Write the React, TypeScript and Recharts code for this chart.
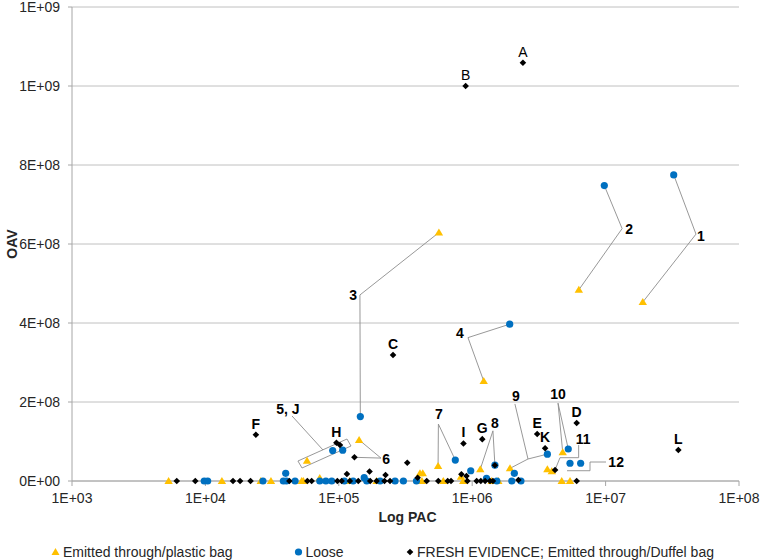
import React from 'react';
import { ScatterChart, Scatter, XAxis, YAxis, CartesianGrid, Legend, Label } from 'recharts';

// ---------------- data ----------------
const xTicks = [1e3, 1e4, 1e5, 1e6, 1e7, 1e8];
const xTickLabels = ['1E+03', '1E+04', '1E+05', '1E+06', '1E+07', '1E+08'];
const yTicks = [0, 2e8, 4e8, 6e8, 8e8, 1e9, 1.2e9];
const yTickLabels = ['0E+00', '2E+08', '4E+08', '6E+08', '8E+08', '1E+09', '1E+09'];

const seriesNames = ['Emitted through/plastic bag', 'Loose', 'FRESH EVIDENCE; Emitted through/Duffel bag'];

const plasticBag = [
  { x: 5.3e3, y: 0 }, { x: 1.33e4, y: 0 }, { x: 2.6e4, y: 0 }, { x: 3.1e4, y: 0 },
  { x: 5.27e4, y: 0 }, { x: 5.42e4, y: 0 }, { x: 5.78e4, y: 5.1e7 }, { x: 7.2e4, y: 7.6e6 },
  { x: 1.21e5, y: 0 }, { x: 1.42e5, y: 1.04e8 }, { x: 1.92e5, y: 0 }, { x: 4.06e5, y: 1.95e7 },
  { x: 4.26e5, y: 1.95e7 }, { x: 4.2e5, y: 0 }, { x: 5.55e5, y: 3.8e7 }, { x: 5.63e5, y: 6.29e8 },
  { x: 6.07e5, y: 0 }, { x: 8.24e5, y: 1.09e7 }, { x: 8.57e5, y: 0 }, { x: 1.15e6, y: 3.0e7 },
  { x: 1.22e6, y: 2.53e8 }, { x: 1.4e6, y: 0 }, { x: 1.57e6, y: 0 }, { x: 1.92e6, y: 3.2e7 },
  { x: 3.66e6, y: 3.0e7 }, { x: 3.95e6, y: 2.5e7 }, { x: 4.69e6, y: 0 }, { x: 5.41e6, y: 0 },
  { x: 4.77e6, y: 7.3e7 }, { x: 6.3e6, y: 4.84e8 }, { x: 1.9e7, y: 4.53e8 },
];

const loose = [
  { x: 9.8e3, y: 0 }, { x: 1.04e4, y: 0 }, { x: 2.7e4, y: 0 }, { x: 3.84e4, y: 0 },
  { x: 4.05e4, y: 0 }, { x: 4.0e4, y: 1.95e7 }, { x: 4.7e4, y: 0 }, { x: 7.2e4, y: 0 },
  { x: 8.0e4, y: 0 }, { x: 8.85e4, y: 0 }, { x: 9.0e4, y: 7.7e7 }, { x: 1.07e5, y: 7.8e7 },
  { x: 1.1e5, y: 0 }, { x: 1.28e5, y: 0 }, { x: 1.45e5, y: 1.63e8 }, { x: 1.55e5, y: 8.4e6 },
  { x: 1.62e5, y: 0 }, { x: 2.04e5, y: 0 }, { x: 2.64e5, y: 0 }, { x: 3.05e5, y: 0 },
  { x: 3.82e5, y: 0 }, { x: 7.47e5, y: 5.3e7 }, { x: 9.75e5, y: 2.6e7 }, { x: 1.28e6, y: 6.8e6 },
  { x: 1.48e6, y: 4.0e7 }, { x: 1.53e6, y: 0 }, { x: 1.91e6, y: 3.97e8 }, { x: 1.98e6, y: 0 },
  { x: 2.07e6, y: 1.95e7 }, { x: 2.32e6, y: 0 }, { x: 3.66e6, y: 6.8e7 }, { x: 5.25e6, y: 8.1e7 },
  { x: 5.41e6, y: 4.5e7 }, { x: 6.5e6, y: 4.5e7 }, { x: 9.78e6, y: 7.48e8 }, { x: 3.24e7, y: 7.75e8 },
];

const duffelBag = [
  { x: 6.1e3, y: 0 }, { x: 8.4e3, y: 0 }, { x: 1.61e4, y: 0 }, { x: 1.82e4, y: 0 },
  { x: 2.18e4, y: 0 }, { x: 2.39e4, y: 1.17e8, label: 'F' }, { x: 4.26e4, y: 0 }, { x: 5.81e4, y: 0 },
  { x: 6.26e4, y: 0 }, { x: 9.6e4, y: 9.7e7, label: 'H' }, { x: 1.02e5, y: 9.1e7 }, { x: 9.75e4, y: 0 },
  { x: 1.05e5, y: 0 }, { x: 1.15e5, y: 1.77e7 }, { x: 1.21e5, y: 0 }, { x: 1.31e5, y: 6.0e7 },
  { x: 1.4e5, y: 0 }, { x: 1.7e5, y: 2.4e7 }, { x: 1.72e5, y: 0 }, { x: 1.92e5, y: 0 },
  { x: 2.2e5, y: 0 }, { x: 2.24e5, y: 1.52e7 }, { x: 2.42e5, y: 0 }, { x: 2.55e5, y: 3.19e8, label: 'C' },
  { x: 3.26e5, y: 4.63e7 }, { x: 3.9e5, y: 8.4e6 }, { x: 4.56e5, y: 0 }, { x: 5.57e5, y: 0 },
  { x: 6.55e5, y: 0 }, { x: 6.94e5, y: 0 }, { x: 8.3e5, y: 1.7e7 }, { x: 8.6e5, y: 9.5e7, label: 'I' },
  { x: 8.93e5, y: 1.0e9, label: 'B' }, { x: 9.06e5, y: 1.27e7 }, { x: 9.2e5, y: 0 }, { x: 1.08e6, y: 0 },
  { x: 1.16e6, y: 0 }, { x: 1.19e6, y: 1.06e8, label: 'G' }, { x: 1.25e6, y: 0 }, { x: 1.36e6, y: 0 },
  { x: 1.43e6, y: 0 }, { x: 1.48e6, y: 4.0e7 }, { x: 2.22e6, y: 2.5e6 }, { x: 2.4e6, y: 1.059e9, label: 'A' },
  { x: 3.07e6, y: 1.19e8, label: 'E' }, { x: 3.52e6, y: 8.3e7, label: 'K' }, { x: 4.18e6, y: 2.8e7 },
  { x: 6.07e6, y: 0 }, { x: 6.07e6, y: 1.47e8, label: 'D' }, { x: 3.51e7, y: 7.85e7, label: 'L' },
];

const calloutLabels = [
  { x: 5.19e7, y: 6.21e8, text: '1' },
  { x: 1.5e7, y: 6.39e8, text: '2' },
  { x: 1.28e5, y: 4.7e8, text: '3' },
  { x: 8.1e5, y: 3.74e8, text: '4' },
  { x: 4.16e4, y: 1.82e8, text: '5, J' },
  { x: 2.26e5, y: 5.6e7, text: '6' },
  { x: 5.64e5, y: 1.7e8, text: '7' },
  { x: 1.48e6, y: 1.47e8, text: '8' },
  { x: 2.13e6, y: 2.15e8, text: '9' },
  { x: 4.4e6, y: 2.2e8, text: '10' },
  { x: 6.78e6, y: 1.06e8, text: '11' },
  { x: 1.2e7, y: 4.8e7, text: '12' },
];

const connectors = [
  [{ x: 3.24e7, y: 7.75e8 }, { x: 4.76e7, y: 6.25e8 }, { x: 1.9e7, y: 4.53e8 }],
  [{ x: 9.78e6, y: 7.48e8 }, { x: 1.33e7, y: 6.39e8 }, { x: 6.3e6, y: 4.84e8 }],
  [{ x: 5.63e5, y: 6.29e8 }, { x: 1.44e5, y: 4.71e8 }, { x: 1.45e5, y: 1.63e8 }],
  [{ x: 1.91e6, y: 3.97e8 }, { x: 9.3e5, y: 3.63e8 }, { x: 1.22e6, y: 2.53e8 }],
  [{ x: 4.46e4, y: 1.646e8 }, { x: 7.61e4, y: 7.85e7 }],
  [{ x: 4.94e4, y: 5.06e7 }, { x: 1.152e5, y: 1.063e8 }, { x: 1.234e5, y: 8.86e7 }, { x: 5.3e4, y: 3.29e7 }, { x: 4.94e4, y: 5.06e7 }],
  [{ x: 1.42e5, y: 1.04e8 }, { x: 2.07e5, y: 5.8e7 }, { x: 1.31e5, y: 6.0e7 }],
  [{ x: 5.55e5, y: 3.8e7 }, { x: 5.58e5, y: 1.44e8 }, { x: 7.47e5, y: 5.3e7 }],
  [{ x: 1.15e6, y: 3.0e7 }, { x: 1.43e6, y: 1.27e8 }, { x: 1.48e6, y: 4.0e7 }],
  [{ x: 1.92e6, y: 3.2e7 }, { x: 2.62e6, y: 5.57e7 }, { x: 3.66e6, y: 6.8e7 }],
  [{ x: 2.09e6, y: 1.95e8 }, { x: 2.62e6, y: 5.57e7 }],
  [{ x: 4.77e6, y: 7.3e7 }, { x: 4.4e6, y: 1.97e8 }, { x: 5.25e6, y: 8.1e7 }],
  [{ x: 6.28e6, y: 9.1e7 }, { x: 6.28e6, y: 5.9e7 }, { x: 4.55e6, y: 5.9e7 }, { x: 4.18e6, y: 2.8e7 }],
  [{ x: 1.007e7, y: 4.81e7 }, { x: 7.64e6, y: 4.81e7 }, { x: 7.64e6, y: 2.6e7 }, { x: 5.14e6, y: 2.6e7 }],
];

// ---------------- styles ----------------
const FONT = '"Liberation Sans", Arial, sans-serif';
const YELLOW = '#FFC000';
const BLUE = '#0070C0';
const BLACK = '#000000';
const TEXT = '#262626';
const LEADER = '#8c8c8c';
const regularLetters = ['A', 'B'];

const Triangle = (props: any) => {
  const { cx, cy } = props;
  if (cx == null || cy == null) return <g />;
  return <polygon points={`${cx},${cy - 4} ${cx + 4.2},${cy + 3} ${cx - 4.2},${cy + 3}`} fill={YELLOW} />;
};

const Dot = (props: any) => {
  const { cx, cy } = props;
  if (cx == null || cy == null) return <g />;
  return <circle cx={cx} cy={cy} r={3.6} fill={BLUE} />;
};

const Diamond = (props: any) => {
  const { cx, cy, payload } = props;
  if (cx == null || cy == null) return <g />;
  const lab = payload && payload.label;
  return (
    <g>
      <polygon points={`${cx},${cy - 3.3} ${cx + 3.3},${cy} ${cx},${cy + 3.3} ${cx - 3.3},${cy}`} fill={BLACK} />
      {lab ? (
        <text x={cx} y={cy - 11} textAnchor="middle" dominantBaseline="central" fontFamily={FONT}
          fontSize={14} fontWeight={regularLetters.includes(lab) ? 'normal' : 'bold'} fill={BLACK}>
          {lab}
        </text>
      ) : null}
    </g>
  );
};

const Callout = (props: any) => {
  const { cx, cy, payload } = props;
  if (cx == null || cy == null) return <g />;
  return (
    <text x={cx} y={cy} textAnchor="middle" dominantBaseline="central" fontFamily={FONT}
      fontSize={14} fontWeight="bold" fill={BLACK}>
      {payload.text}
    </text>
  );
};

const Nothing = () => <g />;

const LegendContent = () => (
  <svg width={739} height={28} style={{ display: 'block' }}>
    <polygon points="55.5,548 59.5,555 51.5,555" fill={YELLOW} transform="translate(0,-532)" />
    <text x={63} y={20} dominantBaseline="central" fontFamily={FONT} fontSize={14} fill={TEXT}>{seriesNames[0]}</text>
    <circle cx={298.5} cy={20} r={3.6} fill={BLUE} />
    <text x={305.5} y={20} dominantBaseline="central" fontFamily={FONT} fontSize={14} fill={TEXT}>{seriesNames[1]}</text>
    <polygon points="410,16.7 413.3,20 410,23.3 406.7,20" fill={BLACK} />
    <text x={417} y={20} dominantBaseline="central" fontFamily={FONT} fontSize={14} fill={TEXT}>{seriesNames[2]}</text>
  </svg>
);

export default function App() {
  return (
    <div style={{ position: 'absolute', left: 0, top: 0, background: '#fff' }}>
      <ScatterChart width={761} height={560} margin={{ top: 7, right: 22, bottom: 0, left: 0 }}>
        <CartesianGrid vertical={false} stroke="#c0c0c0" />
        <XAxis
          type="number"
          dataKey="x"
          scale="log"
          domain={[1e3, 1e8]}
          ticks={xTicks}
          interval={0}
          allowDataOverflow
          height={51}
          tickSize={5}
          tickMargin={7}
          stroke="#a6a6a6"
          tick={{ fontSize: 14, fill: TEXT, fontFamily: FONT }}
          tickFormatter={(v: number) => xTickLabels[xTicks.indexOf(v)] ?? ''}
        >
          <Label
            content={(p: any) => {
              const vb = p.viewBox || {};
              return (
                <text x={vb.x + vb.width / 2 + 2} y={vb.y + 36} textAnchor="middle" dominantBaseline="central"
                  fontFamily={FONT} fontSize={14} fontWeight="bold" fill={TEXT}>Log PAC</text>
              );
            }}
          />
        </XAxis>
        <YAxis
          type="number"
          dataKey="y"
          domain={[0, 1.2e9]}
          ticks={yTicks}
          interval={0}
          width={72}
          tickSize={4}
          tickMargin={8}
          stroke="#a6a6a6"
          tick={{ fontSize: 14, fill: TEXT, fontFamily: FONT }}
          tickFormatter={(v: number, i: number) => yTickLabels[i] ?? ''}
        >
          <Label
            content={(p: any) => {
              const vb = p.viewBox || {};
              const cy = vb.y + vb.height / 2;
              return (
                <text x={12} y={cy} textAnchor="middle" dominantBaseline="central" transform={`rotate(-90, 12, ${cy})`}
                  fontFamily={FONT} fontSize={14} fontWeight="bold" fill={TEXT}>OAV</text>
              );
            }}
          />
        </YAxis>
        <Legend verticalAlign="bottom" height={28} content={() => <LegendContent />} />
        {connectors.map((c, i) => (
          <Scatter key={'c' + i} data={c} line={{ stroke: LEADER, strokeWidth: 0.9 }} shape={Nothing}
            legendType="none" isAnimationActive={false} />
        ))}
        <Scatter name={seriesNames[0]} data={plasticBag} shape={Triangle} fill={YELLOW} isAnimationActive={false} />
        <Scatter name={seriesNames[1]} data={loose} shape={Dot} fill={BLUE} isAnimationActive={false} />
        <Scatter name={seriesNames[2]} data={duffelBag} shape={Diamond} fill={BLACK} isAnimationActive={false} />
        <Scatter data={calloutLabels} shape={Callout} legendType="none" isAnimationActive={false} />
      </ScatterChart>
    </div>
  );
}
